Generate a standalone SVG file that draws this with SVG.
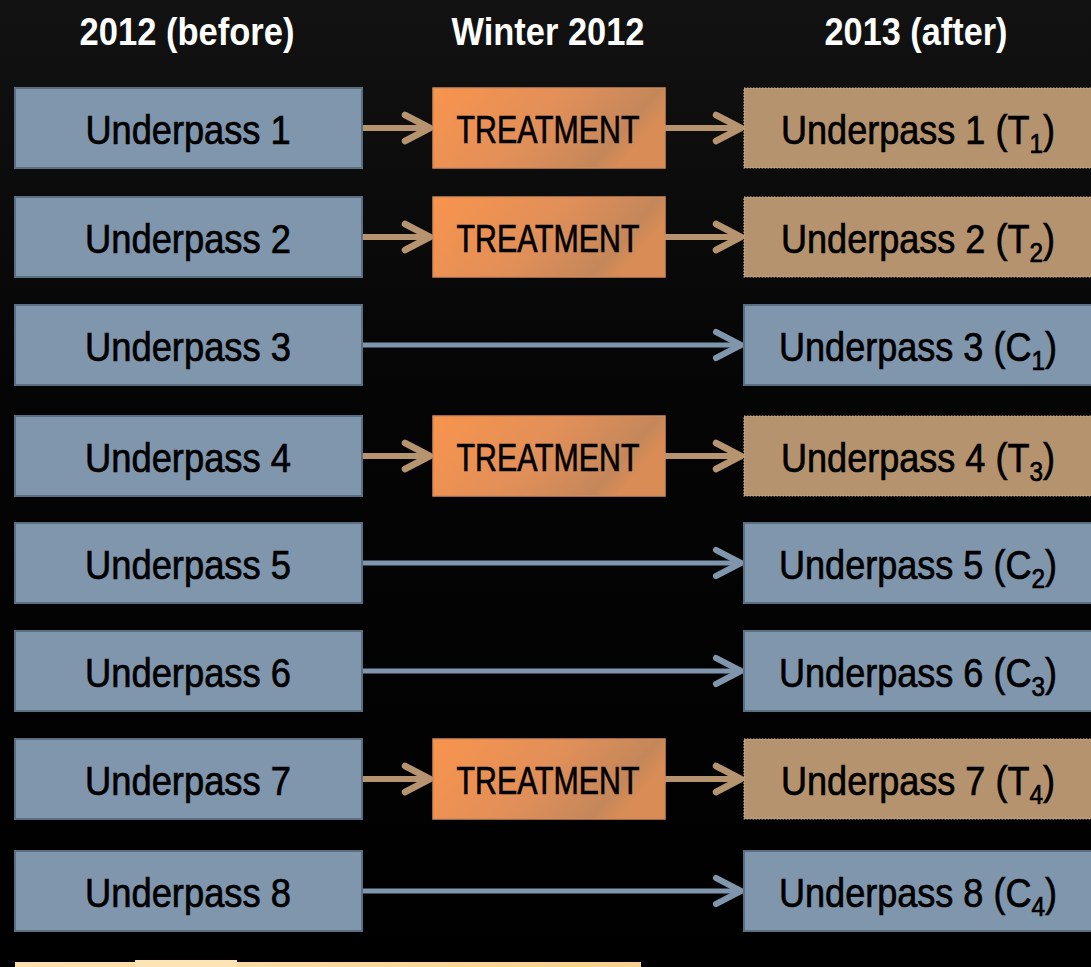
<svg xmlns="http://www.w3.org/2000/svg" width="1091" height="967" viewBox="0 0 1091 967">
<defs>
<linearGradient id="bg" x1="0" y1="0" x2="0" y2="1">
<stop offset="0" stop-color="#121212"/>
<stop offset="0.4" stop-color="#050505"/>
<stop offset="1" stop-color="#000"/>
</linearGradient>
<linearGradient id="tg" x1="0" y1="0" x2="1" y2="0.3">
<stop offset="0" stop-color="#f8944d"/>
<stop offset="0.55" stop-color="#e18f59"/>
<stop offset="0.9" stop-color="#c4875a"/>
<stop offset="1" stop-color="#d98c55"/>
</linearGradient>
<linearGradient id="strip" x1="0" y1="0" x2="1" y2="0">
<stop offset="0" stop-color="#fde1ad"/>
<stop offset="1" stop-color="#f8cf8e"/>
</linearGradient>
<marker id="ah-tan" viewBox="0 0 34 34" refX="30" refY="17" markerWidth="34" markerHeight="34" markerUnits="userSpaceOnUse" orient="auto">
<path d="M5,4 L30,17 L5,30" fill="none" stroke="#b5946f" stroke-width="6.5" stroke-linecap="round" stroke-linejoin="round"/>
</marker>
<marker id="ah-blue" viewBox="0 0 34 34" refX="30" refY="17" markerWidth="34" markerHeight="34" markerUnits="userSpaceOnUse" orient="auto">
<path d="M5,4 L30,17 L5,30" fill="none" stroke="#7f96ad" stroke-width="6" stroke-linecap="round" stroke-linejoin="round"/>
</marker>
</defs>
<style>
.hdr{font-family:"Liberation Sans Narrow","Liberation Sans",Arial,sans-serif;font-weight:bold;font-size:39px;fill:#fff;text-anchor:middle}
.lbl{font-family:"Liberation Sans Narrow","Liberation Sans",Arial,sans-serif;font-size:40px;fill:#000;stroke:#000;stroke-width:0.7;text-anchor:middle}
.tr{font-family:"Liberation Sans Narrow","Liberation Sans",Arial,sans-serif;font-size:39px;fill:#000;stroke:#000;stroke-width:0.7;text-anchor:middle}
.blue{fill:#7f96ad;stroke:#5b6f83;stroke-width:2}
.tan{fill:#b5936f;stroke:#cdb597;stroke-width:1.2;stroke-dasharray:1.5 1.5}
.treat{fill:url(#tg);stroke:#d08a5a;stroke-width:1.5}
.ct{stroke:#b5946f;stroke-width:6;fill:none}
.cb{stroke:#7f96ad;stroke-width:5;fill:none}
</style>
<rect width="1091" height="967" fill="url(#bg)"/>
<rect x="15" y="962" width="626" height="5" fill="url(#strip)"/>
<rect x="135" y="960" width="102" height="7" fill="#fde4b4"/>

<g id="headers">
<text class="hdr" x="187" y="45" textLength="215" lengthAdjust="spacingAndGlyphs">2012 (before)</text>
<text class="hdr" x="548" y="45" textLength="193" lengthAdjust="spacingAndGlyphs">Winter 2012</text>
<text class="hdr" x="916" y="45" textLength="183" lengthAdjust="spacingAndGlyphs">2013 (after)</text>
</g>

<g id="connectors">
<line class="ct" x1="362" y1="128" x2="430" y2="128" marker-end="url(#ah-tan)"/>
<line class="ct" x1="665" y1="128" x2="741" y2="128" marker-end="url(#ah-tan)"/>
<line class="ct" x1="362" y1="237" x2="430" y2="237" marker-end="url(#ah-tan)"/>
<line class="ct" x1="665" y1="237" x2="741" y2="237" marker-end="url(#ah-tan)"/>
<line class="cb" x1="362" y1="345" x2="741" y2="345" marker-end="url(#ah-blue)"/>
<line class="ct" x1="362" y1="456" x2="430" y2="456" marker-end="url(#ah-tan)"/>
<line class="ct" x1="665" y1="456" x2="741" y2="456" marker-end="url(#ah-tan)"/>
<line class="cb" x1="362" y1="563" x2="741" y2="563" marker-end="url(#ah-blue)"/>
<line class="cb" x1="362" y1="671" x2="741" y2="671" marker-end="url(#ah-blue)"/>
<line class="ct" x1="362" y1="779" x2="430" y2="779" marker-end="url(#ah-tan)"/>
<line class="ct" x1="665" y1="779" x2="741" y2="779" marker-end="url(#ah-tan)"/>
<line class="cb" x1="362" y1="891" x2="741" y2="891" marker-end="url(#ah-blue)"/>
</g>

<g id="before1"><rect class="blue" x="15" y="88" width="347" height="80"/><text class="lbl" x="188" y="144" textLength="205" lengthAdjust="spacingAndGlyphs">Underpass 1</text></g>
<g id="before2"><rect class="blue" x="15" y="197" width="347" height="80"/><text class="lbl" x="188" y="253" textLength="206" lengthAdjust="spacingAndGlyphs">Underpass 2</text></g>
<g id="before3"><rect class="blue" x="15" y="305" width="347" height="80"/><text class="lbl" x="188" y="361" textLength="206" lengthAdjust="spacingAndGlyphs">Underpass 3</text></g>
<g id="before4"><rect class="blue" x="15" y="416" width="347" height="80"/><text class="lbl" x="188" y="472" textLength="206" lengthAdjust="spacingAndGlyphs">Underpass 4</text></g>
<g id="before5"><rect class="blue" x="15" y="523" width="347" height="80"/><text class="lbl" x="188" y="579" textLength="206" lengthAdjust="spacingAndGlyphs">Underpass 5</text></g>
<g id="before6"><rect class="blue" x="15" y="631" width="347" height="80"/><text class="lbl" x="188" y="687" textLength="206" lengthAdjust="spacingAndGlyphs">Underpass 6</text></g>
<g id="before7"><rect class="blue" x="15" y="739" width="347" height="80"/><text class="lbl" x="188" y="795" textLength="206" lengthAdjust="spacingAndGlyphs">Underpass 7</text></g>
<g id="before8"><rect class="blue" x="15" y="851" width="347" height="80"/><text class="lbl" x="188" y="907" textLength="206" lengthAdjust="spacingAndGlyphs">Underpass 8</text></g>

<g id="treat1"><rect class="treat" x="433" y="88" width="232" height="80"/><text class="tr" x="548" y="143" textLength="183" lengthAdjust="spacingAndGlyphs">TREATMENT</text></g>
<g id="treat2"><rect class="treat" x="433" y="197" width="232" height="80"/><text class="tr" x="548" y="252" textLength="183" lengthAdjust="spacingAndGlyphs">TREATMENT</text></g>
<g id="treat4"><rect class="treat" x="433" y="416" width="232" height="80"/><text class="tr" x="548" y="471" textLength="183" lengthAdjust="spacingAndGlyphs">TREATMENT</text></g>
<g id="treat7"><rect class="treat" x="433" y="739" width="232" height="80"/><text class="tr" x="548" y="794" textLength="183" lengthAdjust="spacingAndGlyphs">TREATMENT</text></g>

<g id="after1"><rect class="tan" x="744" y="88" width="352" height="80"/><text class="lbl" x="918" y="144" textLength="274" lengthAdjust="spacingAndGlyphs">Underpass 1 (T<tspan font-size="27" baseline-shift="-9">1</tspan>)</text></g>
<g id="after2"><rect class="tan" x="744" y="197" width="352" height="80"/><text class="lbl" x="918" y="253" textLength="274" lengthAdjust="spacingAndGlyphs">Underpass 2 (T<tspan font-size="27" baseline-shift="-9">2</tspan>)</text></g>
<g id="after3"><rect class="blue" x="744" y="305" width="352" height="80"/><text class="lbl" x="918" y="361" textLength="278" lengthAdjust="spacingAndGlyphs">Underpass 3 (C<tspan font-size="27" baseline-shift="-9">1</tspan>)</text></g>
<g id="after4"><rect class="tan" x="744" y="416" width="352" height="80"/><text class="lbl" x="918" y="472" textLength="274" lengthAdjust="spacingAndGlyphs">Underpass 4 (T<tspan font-size="27" baseline-shift="-9">3</tspan>)</text></g>
<g id="after5"><rect class="blue" x="744" y="523" width="352" height="80"/><text class="lbl" x="918" y="579" textLength="278" lengthAdjust="spacingAndGlyphs">Underpass 5 (C<tspan font-size="27" baseline-shift="-9">2</tspan>)</text></g>
<g id="after6"><rect class="blue" x="744" y="631" width="352" height="80"/><text class="lbl" x="918" y="687" textLength="278" lengthAdjust="spacingAndGlyphs">Underpass 6 (C<tspan font-size="27" baseline-shift="-9">3</tspan>)</text></g>
<g id="after7"><rect class="tan" x="744" y="739" width="352" height="80"/><text class="lbl" x="918" y="795" textLength="274" lengthAdjust="spacingAndGlyphs">Underpass 7 (T<tspan font-size="27" baseline-shift="-9">4</tspan>)</text></g>
<g id="after8"><rect class="blue" x="744" y="851" width="352" height="80"/><text class="lbl" x="918" y="907" textLength="278" lengthAdjust="spacingAndGlyphs">Underpass 8 (C<tspan font-size="27" baseline-shift="-9">4</tspan>)</text></g>
</svg>
